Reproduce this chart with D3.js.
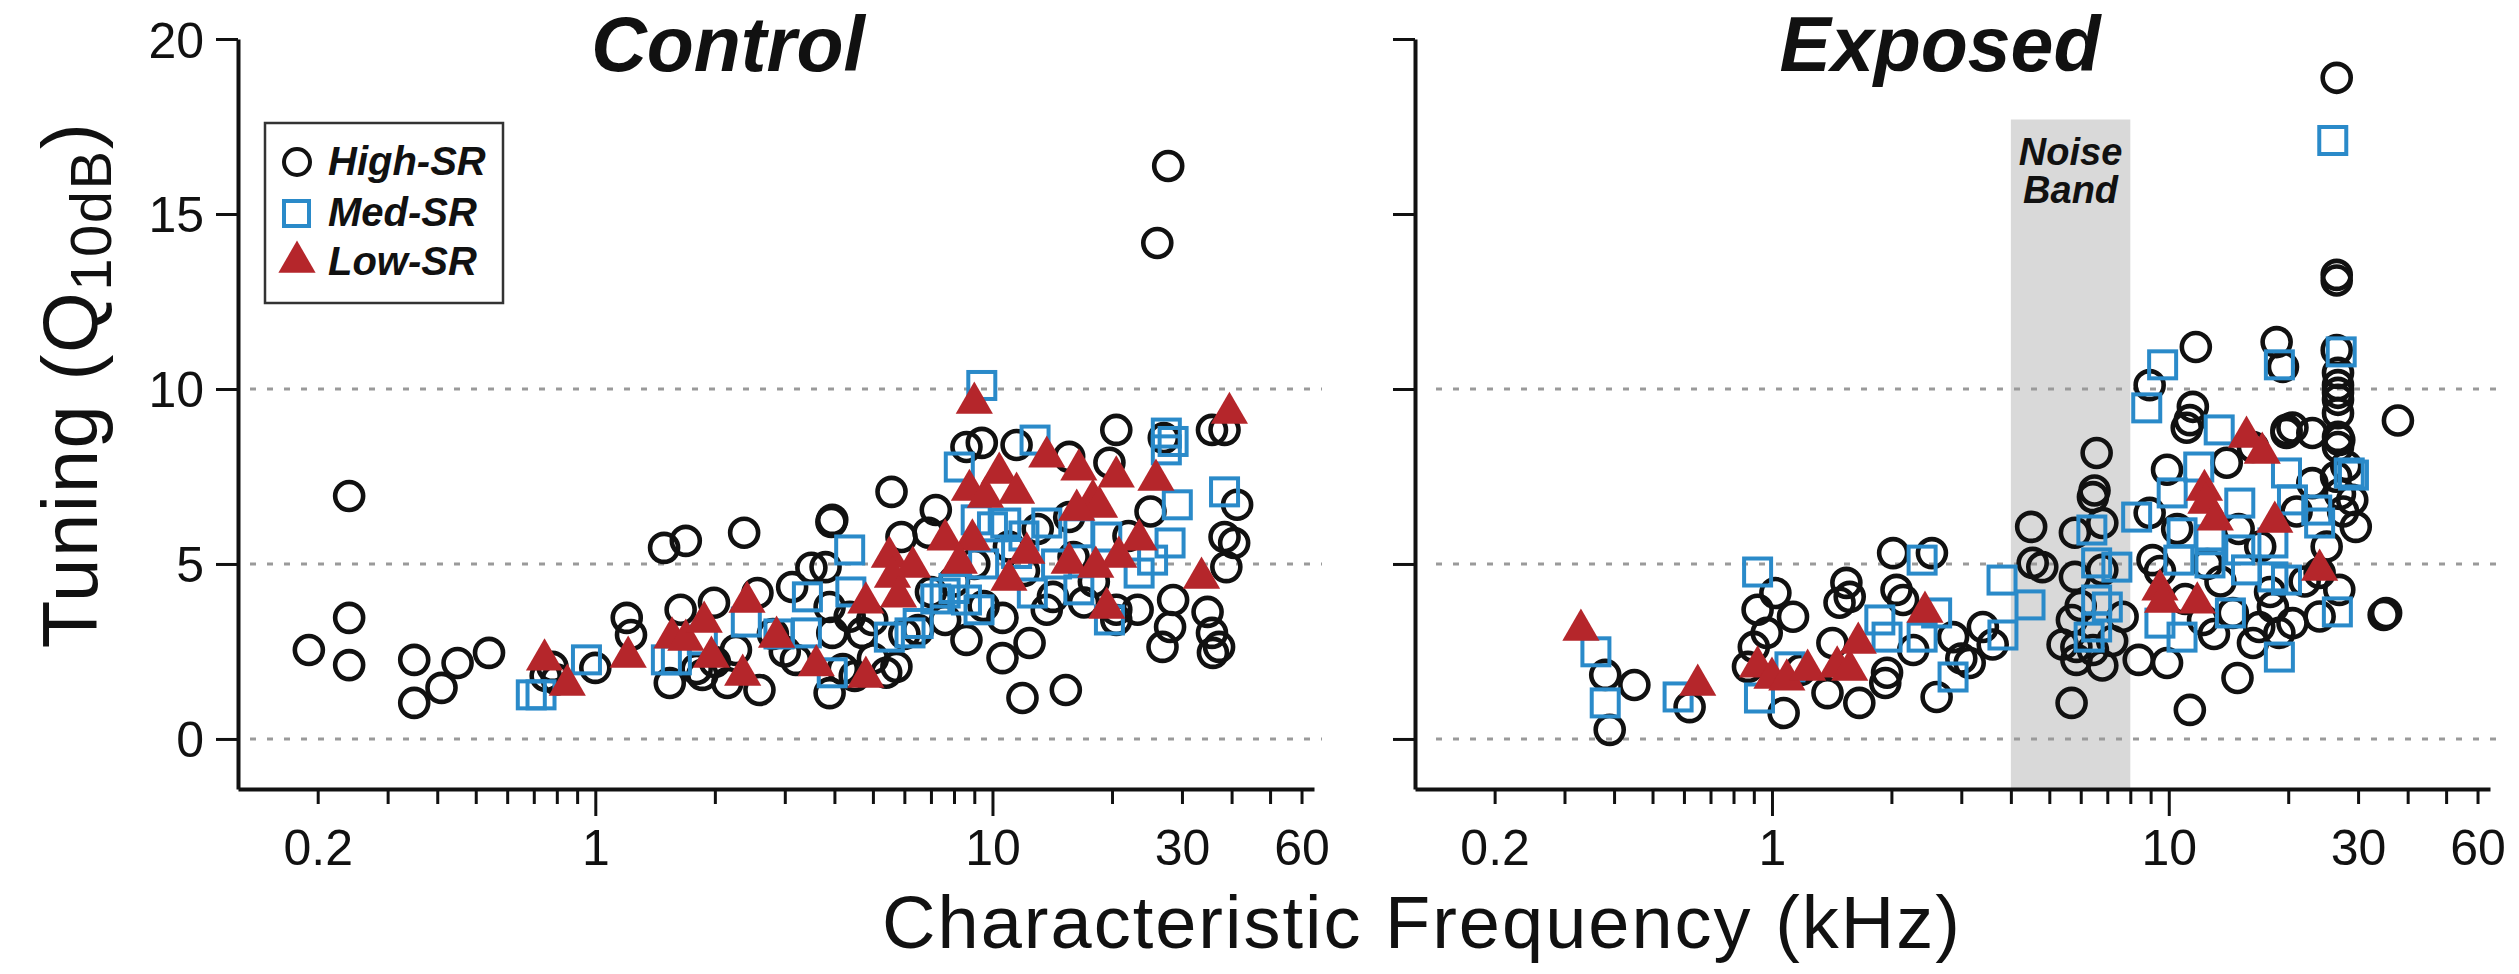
<!DOCTYPE html>
<html>
<head>
<meta charset="utf-8">
<script src="https://cdn.jsdelivr.net/npm/d3@7"></script>
<style>
  body { margin: 0; background: #fff; }
  svg { display: block; }
  text { font-family: "Liberation Sans", Arial, Helvetica, sans-serif; fill: #111; }
</style>
</head>
<body>
<svg id="chart" width="2519" height="974"></svg>
<script>
// ---- data: [CF (kHz), Q10dB] ----
const ctrlHigh = [
  [0.19,2.54],[0.24,6.94],[0.24,3.46],[0.24,2.11],[0.35,2.26],[0.35,1.03],[0.41,1.46],[0.45,2.17],
  [0.54,2.46],[0.78,2.06],[0.80,1.7],[1.0,2.03],[1.2,3.46],[1.23,2.97],[1.49,5.46],[1.69,5.66],
  [2.37,5.89],[1.64,3.69],[1.54,1.6],[1.99,3.89],[1.86,1.83],[2.15,1.6],[2.26,2.54],[2.59,1.4],
  [2.56,4.17],[3.13,4.34],[3.5,4.89],[3.93,6.2],[3.2,2.26],[5.57,7.06],[3.95,6.26],[5.9,5.77],
  [7.2,6.54],[3.8,4.91],[3.89,3.77],[3.95,3.03],[3.89,1.31],[4.98,3.4],[5.4,1.89],[5.73,2.06],
  [8.6,2.83],[10.6,2.31],[12.4,2.74],[11.9,1.17],[15.3,1.4],[8.6,8.34],[9.4,8.46],[11.5,8.4],
  [15.6,8.06],[20.5,8.83],[19.7,7.89],[10.6,3.46],[13.7,3.69],[23.2,3.69],[28.5,3.97],[28,3.2],
  [26.8,2.63],[34.8,3.63],[35.7,3.03],[37.2,2.63],[35.9,2.46],[38.8,4.91],[40.6,5.6],[38.4,5.77],
  [41.3,6.69],[35.7,8.83],[38.4,8.83],[20.5,3.69],[20.5,3.4],[15.6,6.34],[14.2,4.06],[7.6,3.4],
  [6.5,3.11],[4.37,3.49],[4.7,3.03],[6.9,5.89],[27.7,16.37],[26,14.17],[4.2,2.0],[4.5,1.8],
  [5.0,2.3],[6.0,3.0],[7.0,4.2],[8.0,4.5],[9.0,5.0],[11,5.5],[12,4.8],[13,6.0],[16,5.2],[18,4.5],
  [22,5.8],[25,6.5],[27,8.6],[9.5,3.8],[17,3.9],[2.8,3.0],[3.0,2.5],[1.8,2.0],[2.0,2.2],[0.75,1.8]
];
const ctrlMed = [
  [0.69,1.26],[0.73,1.26],[0.95,2.26],[1.6,2.26],[1.51,2.26],[1.86,2.83],[2.4,3.34],[3.42,4.06],
  [3.4,3.03],[4.37,5.4],[4.4,4.2],[8.25,7.77],[12.8,8.54],[38.4,7.06],[29.2,6.69],[28,5.6],
  [27.4,8.26],[27.4,8.74],[10,6.06],[10.8,6.17],[13.7,6.17],[16.5,5.89],[19.4,5.77],[9.1,6.26],
  [7.6,4.17],[8.6,3.97],[9.25,3.69],[12.6,4.17],[16.5,4.26],[23.4,4.74],[5.5,2.91],[6.2,3.03],
  [3.95,1.89],[25.3,5.11],[19.7,3.4],[9.4,10.1],[7.2,4.0],[8.0,4.3],[9.5,5.0],[11.5,5.3],
  [14.5,5.0],[12,5.8],[6.5,3.3],[28.5,8.5],[2.9,3.0]
];
const ctrlLow = [
  [0.745,2.26],[0.85,1.54],[1.21,2.34],[1.56,2.89],[1.69,2.83],[1.88,3.34],[1.96,2.34],[2.41,3.91],
  [2.35,1.83],[2.86,2.91],[3.6,2.1],[13.7,8.06],[10.4,7.6],[16.5,7.69],[20.5,7.49],[25.8,7.4],
  [8.75,7.11],[9.6,6.91],[11.5,7.03],[17.9,6.83],[18.6,6.63],[16.3,6.54],[7.6,5.69],[8.9,5.69],
  [12.2,5.31],[23.4,5.69],[20.8,5.2],[15.6,5.03],[18.2,4.91],[8.25,5.03],[11.0,4.54],[5.5,5.2],
  [6.3,4.91],[5.6,4.63],[5.8,4.06],[4.8,3.89],[33.6,4.6],[19.4,3.74],[4.8,1.77],[39.5,9.31],[9.0,9.6]
];
const expHigh = [
  [0.38,1.83],[0.45,1.54],[0.39,0.26],[0.62,0.91],[0.92,3.69],[1.02,4.17],[1.13,3.49],[0.97,3.03],
  [0.9,2.63],[1.07,0.74],[1.38,1.31],[1.66,1.03],[1.42,2.74],[1.54,4.46],[1.57,4.06],[1.48,3.89],
  [2.02,5.31],[2.53,5.31],[2.06,4.26],[2.14,3.97],[2.27,2.54],[2.86,2.91],[3.15,2.17],[2.6,1.2],
  [3.4,3.2],[4.5,6.06],[4.54,5.03],[4.8,4.91],[1.95,1.89],[1.18,1.97],[1.93,1.6],[0.87,2.06],
  [6.58,8.17],[5.69,1.03],[11.3,0.83],[14.9,1.74],[35.3,3.6],[37.8,9.1],[6.44,6.91],[6.5,7.1],
  [5.8,5.89],[6.8,6.17],[5.8,4.63],[6.8,4.83],[5.85,2.63],[6.44,2.54],[8.4,2.26],[9.9,2.17],
  [8.95,6.46],[9.9,7.69],[11.1,8.89],[19.8,8.74],[26.9,8.54],[26.4,7.49],[29,6.83],[29.6,6.06],
  [14.5,3.6],[16.9,3.2],[19.0,3.03],[20.5,3.31],[18.3,3.77],[16.3,2.74],[12.2,3.4],[7.65,3.49],
  [26.9,4.26],[24,4.74],[14,7.89],[16.3,8.34],[23,7.31],[9.1,5.11],[5.7,3.4],[5.85,2.26],
  [26.5,18.89],[26.5,13.26],[26.5,13.1],[11.7,11.2],[18.7,11.34],[19.4,10.63],[26.5,11.11],
  [8.95,10.11],[26.7,10.46],[26.7,10.11],[26.7,9.89],[26.7,9.69],[26.7,9.31],[26.7,8.63],
  [26.7,8.34],[11.5,9.49],[11.3,9.11],[19.8,8.83],[20.5,8.9],[23,8.74],[34.8,3.54],
  [10.5,6.0],[12.5,5.0],[13.5,4.5],[15,6.0],[17,5.5],[21,6.5],[22,4.5],[25,5.5],[27,7.0],
  [11,4.0],[7.2,2.8],[6.0,3.8],[9.5,4.8],[13,3.0],[18,4.2],[24,3.5],[5.4,2.7],[6.8,2.1],
  [3.0,2.3],[3.6,2.7],[27.5,6.5],[28,7.8]
];
const expMed = [
  [0.36,2.49],[0.38,1.03],[0.58,1.2],[0.92,4.77],[0.93,1.17],[1.11,2.06],[1.87,3.4],[1.95,2.91],
  [2.39,5.11],[2.6,3.6],[2.39,2.91],[2.86,1.77],[3.8,4.54],[3.82,2.97],[4.47,3.83],[13.4,8.83],
  [11.9,7.77],[19.8,7.6],[28.5,7.6],[10.2,7.03],[15.1,6.74],[20.5,6.83],[23.6,6.54],[24,6.17],
  [8.3,6.34],[6.4,5.97],[10.8,5.89],[12.7,5.69],[15.1,5.4],[18.3,5.6],[10.6,5.11],[12.7,5.03],
  [15.7,4.83],[18.3,4.63],[19.8,4.54],[6.58,5.03],[7.4,4.91],[6.58,3.97],[7.0,3.77],[6.58,3.2],
  [6.3,2.91],[9.5,3.31],[10.8,2.91],[14.3,3.6],[19.0,2.34],[26.6,3.63],[25.9,17.1],[9.65,10.69],
  [19.0,10.69],[27.2,11.06],[8.8,9.46],[29.2,7.54]
];
const expLow = [
  [0.33,3.11],[0.65,1.54],[0.92,2.06],[1.0,1.74],[1.09,1.69],[1.23,1.97],[1.46,2.06],[1.57,1.97],
  [1.65,2.74],[2.43,3.63],[15.7,8.63],[17.2,8.17],[12.3,7.11],[12.4,6.74],[13.1,6.26],[18.5,6.2],
  [24,4.83],[9.5,4.26],[9.65,3.91],[11.8,3.89]
];

const xTicks = [0.2,0.3,0.4,0.5,0.6,0.7,0.8,0.9,1,2,3,4,5,6,7,8,9,10,20,30,40,50,60];
const xLabels = [0.2, 1, 10, 30, 60];
const xMajor = [1, 10];
const yTicks = [0, 5, 10, 15, 20];
const gridValues = [0, 5, 10];
const noiseBand = [4, 8];      // kHz
const noiseTop = 17.7;         // Q10dB
const seriesNames = ["High-SR", "Med-SR", "Low-SR"];

const blue = "#2a8ac9", red = "#b5262b", ink = "#111";

const svg = d3.select("#chart");
const y = d3.scaleLinear().domain([-1.43, 20]).range([789, 39]);

const panels = [
  {title: "Control", range: [238, 1314], titleX: 728, grid: [250, 1322], labels: true,
   high: ctrlHigh, med: ctrlMed, low: ctrlLow},
  {title: "Exposed", range: [1415, 2490], titleX: 1940, grid: [1436, 2497], labels: false,
   high: expHigh, med: expMed, low: expLow, band: true}
];

const tri = d3.symbol(d3.symbolTriangle, 600);

function drawCircles(g, data, x) {
  g.selectAll(null).data(data).enter().append("circle")
    .attr("cx", d => x(d[0])).attr("cy", d => y(d[1])).attr("r", 14)
    .attr("fill", "none").attr("stroke", ink).attr("stroke-width", 4.6);
}
function drawSquares(g, data, x) {
  g.selectAll(null).data(data).enter().append("rect")
    .attr("x", d => x(d[0]) - 13.5).attr("y", d => y(d[1]) - 13.5)
    .attr("width", 27).attr("height", 27)
    .attr("fill", "none").attr("stroke", blue).attr("stroke-width", 4);
}
function drawTriangles(g, data, x) {
  g.selectAll(null).data(data).enter().append("path")
    .attr("d", tri)
    .attr("transform", d => `translate(${x(d[0])},${y(d[1])})`)
    .attr("fill", red);
}

panels.forEach(p => {
  const x = d3.scaleLog().domain([0.126, 64.5]).range(p.range);
  const g = svg.append("g");

  // noise band
  if (p.band) {
    g.append("rect")
      .attr("x", x(noiseBand[0])).attr("width", x(noiseBand[1]) - x(noiseBand[0]))
      .attr("y", y(noiseTop)).attr("height", y(-1.43) - y(noiseTop))
      .attr("fill", "#d9d9d9");
    const cx = (x(noiseBand[0]) + x(noiseBand[1])) / 2;
    ["Noise", "Band"].forEach((t, i) => {
      g.append("text").attr("x", cx).attr("y", 165 + i * 38)
        .attr("text-anchor", "middle").attr("font-size", 38)
        .attr("font-weight", "bold").attr("font-style", "italic").text(t);
    });
  }

  // dotted reference lines
  g.selectAll(null).data(gridValues).enter().append("line")
    .attr("x1", p.grid[0]).attr("x2", p.grid[1])
    .attr("y1", d => y(d)).attr("y2", d => y(d))
    .attr("stroke", "#9a9a9a").attr("stroke-width", 3)
    .attr("stroke-dasharray", "6,11");

  // axes
  const xa = g.append("g").attr("transform", `translate(0,${y(-1.43)})`)
    .call(d3.axisBottom(x).tickValues(xTicks).tickSizeOuter(0)
      .tickFormat(d => xLabels.includes(d) ? String(d) : ""));
  xa.selectAll(".tick line").attr("y2", d => xMajor.includes(d) ? 27 : 15);
  xa.selectAll(".tick text").attr("y", 76).attr("dy", null)
    .attr("font-size", 50).attr("fill", ink);

  const ya = g.append("g").attr("transform", `translate(${p.range[0]},0)`)
    .call(d3.axisLeft(y).tickValues(yTicks).tickSize(22).tickSizeOuter(0)
      .tickFormat(d => p.labels ? d : ""));
  ya.selectAll(".tick text").attr("x", -34).attr("dy", "0.36em")
    .attr("font-size", 50).attr("fill", ink);

  [xa, ya].forEach(a => {
    a.select(".domain").attr("stroke", ink).attr("stroke-width", 4);
    a.selectAll(".tick line").attr("stroke", ink).attr("stroke-width", 3);
  });

  // points
  drawCircles(g, p.high, x);
  drawSquares(g, p.med, x);
  drawTriangles(g, p.low, x);

  // panel title
  g.append("text").attr("x", p.titleX).attr("y", 71)
    .attr("text-anchor", "middle").attr("font-size", 77)
    .attr("font-weight", "bold").attr("font-style", "italic").text(p.title);
});

// legend
const lg = svg.append("g");
lg.append("rect").attr("x", 265).attr("y", 123).attr("width", 238).attr("height", 180)
  .attr("fill", "#fff").attr("stroke", "#333").attr("stroke-width", 2.5);
const legendY = [162, 213, 262];
lg.append("circle").attr("cx", 297).attr("cy", legendY[0]).attr("r", 13)
  .attr("fill", "none").attr("stroke", ink).attr("stroke-width", 4);
lg.append("rect").attr("x", 284).attr("y", legendY[1] - 12).attr("width", 25).attr("height", 25)
  .attr("fill", "none").attr("stroke", blue).attr("stroke-width", 4);
lg.append("path").attr("d", tri).attr("transform", `translate(297,${legendY[2]})`).attr("fill", red);
lg.selectAll(null).data(seriesNames).enter().append("text")
  .attr("x", 328).attr("y", (d, i) => legendY[i] + 13)
  .attr("font-size", 40).attr("font-weight", "bold").attr("font-style", "italic")
  .text(d => d);

// axis titles
const yt = svg.append("text")
  .attr("transform", "translate(97,385) rotate(-90)")
  .attr("text-anchor", "middle").attr("font-size", 78).attr("letter-spacing", 1.5);
yt.append("tspan").text("Tuning (Q");
yt.append("tspan").attr("font-size", 58).attr("dy", 14).text("10dB");
yt.append("tspan").attr("dy", -14).text(")");

svg.append("text").attr("x", 1422).attr("y", 948)
  .attr("text-anchor", "middle").attr("font-size", 74).attr("letter-spacing", 2)
  .text("Characteristic Frequency (kHz)");
</script>
</body>
</html>
